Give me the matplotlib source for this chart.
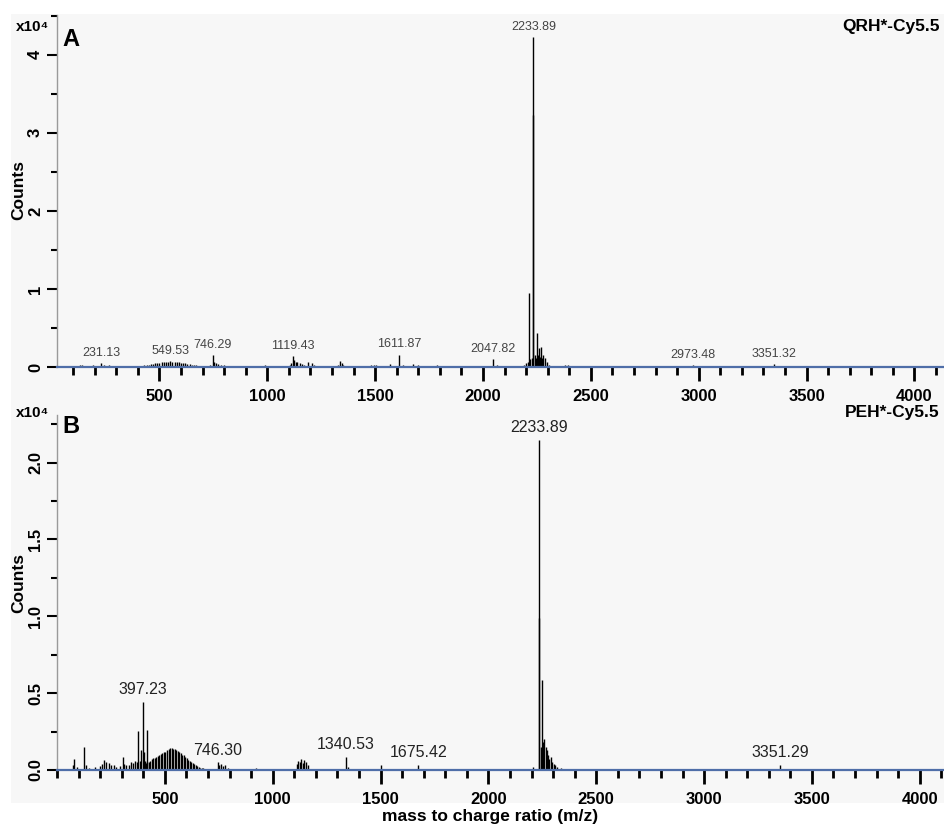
import numpy as np
import matplotlib
matplotlib.use("Agg")
import matplotlib.pyplot as plt
from matplotlib.patches import Rectangle
from matplotlib.ticker import MultipleLocator, FixedLocator

plt.rcParams['font.family'] = ['Liberation Sans', 'DejaVu Sans']

# ---------------- datos: espectro A (QRH*-Cy5.5) ----------------
mzA = [130, 140, 193, 231.13, 245, 265, 290,
       420, 430, 440, 450, 460, 470, 480, 490, 500, 510, 520, 530, 540, 549.53,
       560, 570, 580, 590, 600, 610, 620, 630, 640, 650, 660, 670, 680, 690, 700,
       735, 746.29, 752, 760, 770, 785, 800, 830,
       990, 1050,
       1105, 1112, 1119.43, 1126, 1133, 1140, 1150, 1160, 1172, 1190, 1205, 1215,
       1330, 1337, 1345, 1352,
       1480, 1495, 1505, 1520,
       1569, 1611.87, 1630, 1676, 1700, 1785,
       2047.82, 2065,
       2190, 2200, 2207, 2213.8, 2220, 2225, 2232.9, 2233.89, 2240, 2245, 2251,
       2256, 2260, 2264, 2268, 2274, 2280, 2288, 2295, 2305,
       2380, 2395,
       2973.48, 3351.32]
intA = [300, 250, 200, 550, 300, 200, 150,
        150, 200, 250, 300, 350, 400, 450, 500, 550, 600, 650, 650, 700, 750,
        700, 700, 650, 600, 550, 500, 450, 400, 350, 300, 250, 200, 150, 120, 100,
        300, 1500, 700, 500, 400, 200, 200, 150,
        200, 100,
        300, 500, 1400, 900, 700, 600, 500, 400, 300, 600, 450, 200,
        300, 800, 500, 300,
        200, 300, 250, 150,
        350, 1600, 200, 350, 250, 200,
        1000, 300,
        300, 500, 700, 9500, 1000, 1200, 32300, 42300, 1500, 1200, 4400,
        1500, 2400, 1300, 2600, 1200, 1500, 1100, 600, 300,
        300, 300,
        200, 400]
etiqA = [231.13, 549.53, 746.29, 1119.43, 1611.87, 2047.82, 2233.89, 2973.48, 3351.32]

# ---------------- datos: espectro B (PEH*-Cy5.5) ----------------
mzB = [75, 80, 95, 124, 135, 150, 175, 200, 210, 219, 228, 240, 250, 262, 275,
       290, 306, 312, 320, 335, 345, 352, 360, 370, 377, 383, 390, 397.23, 403,
       410, 416,
       405, 412, 419, 426, 433, 440, 447, 454, 461, 468, 475, 482, 489, 496, 503,
       510, 517, 524, 531, 538, 545, 552, 559, 566, 573, 580, 587, 594, 601, 608,
       615, 622, 629, 636, 643, 650, 657, 664, 671, 678,
       746.30, 752, 760, 770, 780, 795,
       921,
       1112, 1118, 1125, 1132, 1140, 1147, 1155, 1162,
       1340.53, 1350,
       1500, 1675.42,
       2207, 2233.89, 2235.5, 2242, 2250, 2255, 2260, 2265, 2270, 2276, 2282,
       2288, 2295, 2302, 2310, 2320, 2335,
       3351.29]
intB = [350, 700, 200, 1520, 300, 150, 200, 250, 400, 650, 500, 450, 350, 300, 200,
        250, 870, 400, 300, 350, 500, 450, 600, 550, 2560, 600, 1300, 4450, 1200,
        600, 2600,
        400, 450, 500, 550, 600, 700, 750, 800, 850, 900, 1000, 1050, 1100, 1150, 1200,
        1300, 1350, 1400, 1400, 1380, 1350, 1300, 1250, 1200, 1100, 1000, 950, 850, 750, 650,
        600, 500, 450, 400, 300, 250, 200, 150, 120, 100,
        540, 300, 400, 250, 300, 150,
        150,
        400, 600, 500, 700, 450, 650, 500, 300,
        870, 200,
        300, 350,
        200, 21500, 9900, 1500, 5860, 1800, 2000, 1500, 1300, 1000, 700,
        850, 500, 400, 350, 200, 150,
        350]
etiqB = [397.23, 746.30, 1340.53, 1675.42, 2233.89, 3351.29]

xticks = [500, 1000, 1500, 2000, 2500, 3000, 3500, 4000]

W, H = 945, 826
gris = '#f7f7f7'
azul = '#4f6ea8'

fig = plt.figure(figsize=(W/100, H/100), dpi=100)
fondo = Rectangle((11/W, 1-803/H), 1-11/W, (803-14)/H, transform=fig.transFigure,
                  facecolor=gris, edgecolor='none', zorder=-10)
fig.add_artist(fondo)

def panel(pos, mz, inten, etiq, ymax, ymaj, yfmt, fs_lab, col_lab, xmin, xmax):
	ax = fig.add_axes(pos)
	ax.set_facecolor('none')
	y = np.array(inten)/1e4
	ax.vlines(mz, 0, y, color='black', lw=1.0)
	for e in etiq:
		i = mz.index(e)
		ax.annotate("%.2f" % e, (mz[i], y[i]), xytext=(0, 3), textcoords='offset points',
		            ha='center', va='bottom', fontsize=fs_lab, color=col_lab)
	ax.set_xlim(xmin, xmax)
	ax.set_ylim(0, ymax)
	for s in ['top', 'right']:
		ax.spines[s].set_visible(False)
	ax.spines['bottom'].set_color(azul)
	ax.spines['bottom'].set_linewidth(1.6)
	ax.spines['bottom'].set_zorder(5)
	ax.spines['left'].set_color('#9a9a9a')
	ax.spines['left'].set_linewidth(1.0)
	ax.xaxis.set_major_locator(FixedLocator(xticks))
	ax.xaxis.set_minor_locator(MultipleLocator(100))
	ax.tick_params(axis='x', which='major', length=10, width=2, color='black', pad=6,
	               labelsize=12)
	ax.tick_params(axis='x', which='minor', length=6, width=2, color='black')
	ticks = np.arange(0, ymax, ymaj)
	ax.yaxis.set_major_locator(FixedLocator(ticks))
	ax.yaxis.set_minor_locator(FixedLocator(ticks + ymaj/2))
	ax.set_yticklabels([yfmt % t for t in ticks], rotation=90, va='center')
	ax.tick_params(axis='y', which='major', length=7, width=1.5, color='black', pad=3,
	               labelsize=12)
	ax.tick_params(axis='y', which='minor', length=4, width=1.5, color='black')
	for lab in ax.get_xticklabels() + ax.get_yticklabels():
		lab.set_fontweight('bold')
	return ax

axA = panel([57/W, 1-367/H, 1-57/W, (367-15)/H], mzA, intA, etiqA, 4.51, 1.0, '%.0f',
            9, '#444444', 25, 4142)
axB = panel([57/W, 1-770/H, 1-57/W, (770-415)/H], mzB, intB, etiqB, 2.31, 0.5, '%.1f',
            11.5, '#222222', 0, 4117)

# textos de los paneles
for ytop, letra, nombre, ycnt in [(27, 'A', 'QRH*-Cy5.5', 190), (413, 'B', 'PEH*-Cy5.5', 583)]:
	fig.text(33/W, 1-ytop/H, 'x10⁴', ha='center', va='center', fontsize=11, fontweight='bold')
	fig.text(62/W, 1-(ytop+13)/H, letra, ha='left', va='center', fontsize=17, fontweight='bold')
	fig.text(940/W, 1-ytop/H, nombre, ha='right', va='center', fontsize=12.5, fontweight='bold')
	fig.text(19/W, 1-ycnt/H, 'Counts', rotation=90, ha='center', va='center',
	         fontsize=12.5, fontweight='bold')

fig.text(490/W, 1-816/H, 'mass to charge ratio (m/z)', ha='center', va='center',
         fontsize=12.5, fontweight='bold')

fig.savefig('out.png', dpi=100, facecolor='white')
